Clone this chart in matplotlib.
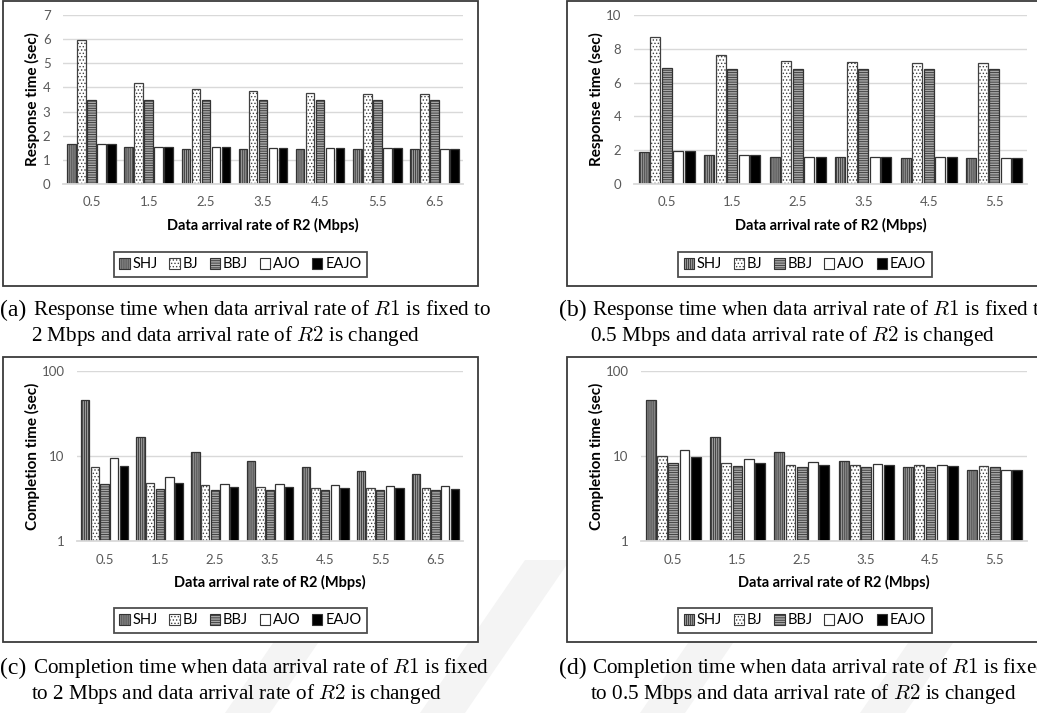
import matplotlib
matplotlib.use("Agg")
import matplotlib.pyplot as plt
from matplotlib.patches import Rectangle, Polygon, Patch

plt.rcParams['font.family'] = ['Lato', 'DejaVu Sans']
plt.rcParams['mathtext.fontset'] = 'cm'
plt.rcParams['hatch.linewidth'] = 0.6

W, H = 1037, 713

algorithms = ['SHJ', 'BJ', 'BBJ', 'AJO', 'EAJO']
rates_r2_a = ['0.5', '1.5', '2.5', '3.5', '4.5', '5.5', '6.5']
rates_r2_b = ['0.5', '1.5', '2.5', '3.5', '4.5', '5.5']

# response time, R1 = 2 Mbps
resp_a = {
    'SHJ':  [1.64, 1.52, 1.47, 1.45, 1.45, 1.45, 1.45],
    'BJ':   [5.98, 4.20, 3.95, 3.86, 3.77, 3.73, 3.71],
    'BBJ':  [3.48, 3.46, 3.46, 3.46, 3.46, 3.46, 3.46],
    'AJO':  [1.66, 1.54, 1.52, 1.48, 1.48, 1.48, 1.45],
    'EAJO': [1.66, 1.54, 1.52, 1.48, 1.48, 1.48, 1.45],
}
# response time, R1 = 0.5 Mbps
resp_b = {
    'SHJ':  [1.91, 1.71, 1.62, 1.57, 1.54, 1.54],
    'BJ':   [8.72, 7.62, 7.30, 7.24, 7.15, 7.15],
    'BBJ':  [6.85, 6.81, 6.81, 6.81, 6.81, 6.81],
    'AJO':  [1.93, 1.71, 1.62, 1.57, 1.57, 1.54],
    'EAJO': [1.97, 1.71, 1.62, 1.57, 1.57, 1.54],
}
# completion time, R1 = 2 Mbps
comp_c = {
    'SHJ':  [45.0, 16.7, 11.1, 8.7, 7.5, 6.6, 6.1],
    'BJ':   [7.5, 4.8, 4.5, 4.3, 4.24, 4.24, 4.16],
    'BBJ':  [4.68, 4.12, 4.0, 4.0, 4.0, 3.94, 3.94],
    'AJO':  [9.4, 5.65, 4.72, 4.72, 4.5, 4.43, 4.43],
    'EAJO': [7.55, 4.85, 4.28, 4.35, 4.2, 4.2, 4.12],
}
# completion time, R1 = 0.5 Mbps
comp_d = {
    'SHJ':  [45.0, 16.7, 11.1, 8.73, 7.5, 6.84],
    'BJ':   [10.0, 8.27, 7.83, 7.76, 7.76, 7.62],
    'BBJ':  [8.35, 7.69, 7.5, 7.35, 7.35, 7.35],
    'AJO':  [11.8, 9.22, 8.58, 8.12, 7.76, 6.84],
    'EAJO': [9.8, 8.35, 7.9, 7.76, 7.62, 6.84],
}

styles = {
    'SHJ':  dict(facecolor='#9a9a9a', hatch='||||||||', edgecolor='#333333'),
    'BJ':   dict(facecolor='white', hatch='.....', edgecolor='#404040'),
    'BBJ':  dict(facecolor='#a6a6a6', hatch='-------', edgecolor='#333333'),
    'AJO':  dict(facecolor='white', hatch=None, edgecolor='#333333'),
    'EAJO': dict(facecolor='black', hatch=None, edgecolor='#333333'),
}

captions = {
    'a': ('Response time when data arrival rate of $R1$ is fixed to',
          '2 Mbps and data arrival rate of $R2$ is changed'),
    'b': ('Response time when data arrival rate of $R1$ is fixed to',
          '0.5 Mbps and data arrival rate of $R2$ is changed'),
    'c': ('Completion time when data arrival rate of $R1$ is fixed',
          'to 2 Mbps and data arrival rate of $R2$ is changed'),
    'd': ('Completion time when data arrival rate of $R1$ is fixed',
          'to 0.5 Mbps and data arrival rate of $R2$ is changed'),
}


def frac(x0, y0, x1, y1):
    return [x0 / W, 1 - y1 / H, (x1 - x0) / W, (y1 - y0) / H]


def fx(x):
    return x / W


def fy(y):
    return 1 - y / H


fig = plt.figure(figsize=(W / 100, H / 100), dpi=100)

# faint diagonal watermark bands behind the lower panels
for x0 in [225, 420, 640, 860]:
    pts = [(fx(x0), fy(713)), (fx(x0 + 45), fy(713)),
           (fx(x0 + 150), fy(560)), (fx(x0 + 105), fy(560))]
    fig.patches.append(Polygon(pts, closed=True, transform=fig.transFigure,
                               facecolor='#f4f4f4', edgecolor='none', zorder=0))


def draw_panel(box, plot, data, labels, ylabel, log, ylim, yticks, legend_x, legend_y):
    bx0, by0, bx1, by1 = box
    fig.patches.append(Rectangle((fx(bx0), fy(by1)), (bx1 - bx0) / W, (by1 - by0) / H,
                                 transform=fig.transFigure, facecolor='white',
                                 edgecolor='#3a3a3a', linewidth=1.3, zorder=1))
    ax = fig.add_axes(frac(*plot))
    ax.set_zorder(2)
    ax.patch.set_alpha(0)
    n = len(labels)
    slot = 0.175
    width = 0.152
    for k, name in enumerate(algorithms):
        xs = [i + 0.5 + (k - 2) * slot for i in range(n)]
        ax.bar(xs, data[name], width=width, linewidth=0.9, zorder=3, **styles[name])
    if log:
        ax.set_yscale('log')
        ax.minorticks_off()
    ax.set_ylim(*ylim)
    ax.set_yticks(yticks)
    ax.set_yticklabels([str(t) for t in yticks])
    ax.set_xlim(0, n)
    ax.set_xticks([i + 0.5 for i in range(n)])
    ax.set_xticklabels(labels)
    ax.tick_params(length=0, labelsize=9.5, colors='#595959')
    ax.tick_params(axis='x', pad=9)
    ax.tick_params(axis='y', pad=9)
    ax.grid(axis='y', color='#d9d9d9', linewidth=1.0, zorder=0)
    ax.set_axisbelow(True)
    for side in ['top', 'right', 'left']:
        ax.spines[side].set_visible(False)
    ax.spines['bottom'].set_color('#d9d9d9')
    ax.spines['bottom'].set_linewidth(1.3)
    ax.spines['bottom'].set_zorder(4)

    px0, py0, px1, py1 = plot
    fig.text(fx((px0 + px1) / 2), fy(py1 + 41), 'Data arrival rate of R2 (Mbps)',
             ha='center', va='center', fontsize=10.5, fontweight='bold', zorder=5)
    fig.text(fx(bx0 + 29), fy((py0 + py1) / 2), ylabel, rotation=90,
             ha='center', va='center', fontsize=11, fontweight='bold', zorder=5)

    handles = [Patch(label=name, linewidth=0.8, **styles[name]) for name in algorithms]
    leg = fig.legend(handles=handles, loc='center', ncol=5,
                     bbox_to_anchor=(fx(legend_x), fy(legend_y)),
                     frameon=True, fancybox=False, fontsize=10.5,
                     handlelength=0.7, handleheight=0.7, handletextpad=0.2,
                     columnspacing=0.8, borderpad=0.4)
    leg.get_frame().set_edgecolor('#222222')
    leg.get_frame().set_linewidth(1.3)
    leg.set_zorder(6)
    return ax


draw_panel((3, 1, 478, 286), (63, 15, 463, 184), resp_a, rates_r2_a,
           'Response time (sec)', False, (0, 7), list(range(8)), 240.5, 264.5)
draw_panel((567, 1, 1130, 286), (634, 15, 1027, 184), resp_b, rates_r2_b,
           'Response time (sec)', False, (0, 10), [0, 2, 4, 6, 8, 10], 805, 264.5)
draw_panel((3, 357, 478, 642), (77, 371, 463, 541), comp_c, rates_r2_a,
           'Completion time (sec)', True, (1, 100), [1, 10, 100], 240.5, 620.5)
draw_panel((567, 357, 1130, 642), (641, 371, 1027, 541), comp_d, rates_r2_b,
           'Completion time (sec)', True, (1, 100), [1, 10, 100], 805, 620.5)

# sub-figure captions; the right-hand ones run past the page edge
serif = ['Liberation Serif', 'DejaVu Serif']
caption_pos = {'a': (0, 310), 'b': (559, 310), 'c': (0, 668), 'd': (559, 668)}
for key, (x, y) in caption_pos.items():
    line1, line2 = captions[key]
    fig.text(fx(x), fy(y), '(%s)' % key, ha='left', va='center',
             fontsize=17, family=serif, zorder=5)
    fig.text(fx(x + 33), fy(y), line1, ha='left', va='center',
             fontsize=15.2, family=serif, zorder=5)
    fig.text(fx(x + 31), fy(y + 26), line2, ha='left', va='center',
             fontsize=15.2, family=serif, zorder=5)

fig.savefig('out.png', dpi=100)
